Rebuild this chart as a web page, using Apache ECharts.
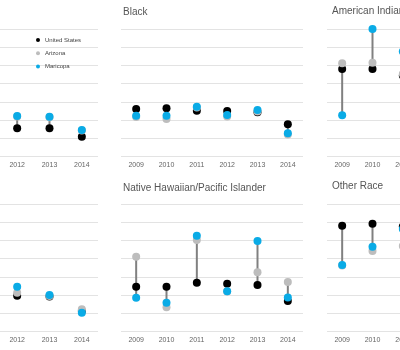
<!DOCTYPE html>
<html><head><meta charset="utf-8">
<script src="https://cdn.jsdelivr.net/npm/echarts@6/dist/echarts.min.js"></script>
<style>
html,body{margin:0;padding:0;background:#fff;overflow:hidden;width:400px;height:350px;position:relative}
#c{position:absolute;left:-120px;top:0;width:640px;height:350px}
</style>
</head><body><div id="c"></div>
<script>
// ---- data ----
const years = ['2009', '2010', '2011', '2012', '2013', '2014'];
const seriesNames = ['United States', 'Arizona', 'Maricopa'];
const panelTitles = ['', 'Black', 'American Indian/Alaska Native', '', 'Native Hawaiian/Pacific Islander', 'Other Race'];

// top-left panel (only 2012-2014 visible)
const aUS  = [null, null, null, 15.6, 15.6, 11.0];
const aAZ  = [null, null, null, 22.0, 21.6, 14.3];
const aMar = [null, null, null, 22.3, 21.9, 14.6];

const blackUS  = [26.2, 26.5, 25.2, 25.1, 24.3, 17.8];
const blackAZ  = [21.8, 20.7, 27.0, 22.1, 24.8, 12.2];
const blackMar = [22.5, 22.5, 27.4, 22.9, 25.6, 12.8];

const aianUS  = [48.1, 48.1, 44.5, null, null, null];
const aianAZ  = [51.2, 51.5, 45.3, null, null, null];
const aianMar = [22.7, 70.0, 57.6, null, null, null];

// bottom-left panel (only 2012-2014 visible)
const dUS  = [null, null, null, 19.7, 19.3, 11.3];
const dAZ  = [null, null, null, 21.4, 19.6, 12.3];
const dMar = [null, null, null, 24.7, 20.1, 10.4];

const nhpiUS  = [24.7, 24.7, 26.9, 26.3, 25.6, 16.8];
const nhpiAZ  = [41.1, 13.4, 50.3, 22.0, 32.6, 27.2];
const nhpiMar = [18.6, 15.9, 52.6, 22.2, 49.7, 18.8];

const otherUS  = [58.1, 59.2, 57.6, null, null, null];
const otherAZ  = [36.3, 44.2, 47.0, null, null, null];
const otherMar = [36.6, 46.6, 56.3, null, null, null];

const yMin = 0, yMax = 70, yStep = 10;

// ---- layout / style (chart div is shifted 120px left of the window) ----
const FONT = "'Liberation Sans','Arial',sans-serif";
const colors = ['#000000', '#bdbdbd', '#0aabe6'];
const gridLayouts = [
  {left: 24,  top: 29,  width: 194, height: 127.7},
  {left: 241, top: 29,  width: 182, height: 127.7},
  {left: 447, top: 29,  width: 182, height: 127.7},
  {left: 24,  top: 204, width: 194, height: 127.7},
  {left: 241, top: 204, width: 182, height: 127.7},
  {left: 447, top: 204, width: 182, height: 127.7}
];
const titlePos = [null, {left: 243, top: 7}, {left: 452, top: 6}, null, {left: 243, top: 183}, {left: 452, top: 181}];

const panelData = [
  [aUS, aAZ, aMar], [blackUS, blackAZ, blackMar], [aianUS, aianAZ, aianMar],
  [dUS, dAZ, dMar], [nhpiUS, nhpiAZ, nhpiMar], [otherUS, otherAZ, otherMar]
];

const grid = [], xAxis = [], yAxis = [], series = [], title = [];
panelData.forEach((pd, i) => {
  grid.push(Object.assign({}, gridLayouts[i]));
  xAxis.push({
    type: 'category', gridIndex: i, data: years, boundaryGap: true,
    axisLine: {show: false}, axisTick: {show: false},
    axisLabel: {fontSize: 7, color: '#666', fontFamily: FONT, margin: 5, interval: 0}
  });
  yAxis.push({
    type: 'value', gridIndex: i, min: yMin, max: yMax, interval: yStep,
    axisLine: {show: false}, axisTick: {show: false}, axisLabel: {show: false},
    splitLine: {lineStyle: {color: '#e3e3e3', width: 1}}
  });
  if (titlePos[i]) {
    title.push({
      text: panelTitles[i], left: titlePos[i].left, top: titlePos[i].top, padding: 0,
      textStyle: {fontSize: 10, fontWeight: 'normal', color: '#555', fontFamily: FONT}
    });
  }
  const ranges = years.map((y, k) => {
    const vals = pd.map(s => s[k]).filter(v => v != null);
    return vals.length ? [k, Math.min(...vals), Math.max(...vals)] : [k, null, null];
  }).filter(r => r[1] != null);
  series.push({
    type: 'custom', xAxisIndex: i, yAxisIndex: i, silent: true,
    data: ranges, encode: {x: 0, y: [1, 2]},
    renderItem: function (params, api) {
      const p1 = api.coord([api.value(0), api.value(1)]);
      const p2 = api.coord([api.value(0), api.value(2)]);
      return {type: 'line', shape: {x1: p1[0], y1: p1[1], x2: p2[0], y2: p2[1]},
              style: {stroke: '#808080', lineWidth: 2}};
    }
  });
  pd.forEach((s, j) => {
    series.push({
      type: 'scatter', name: seriesNames[j], xAxisIndex: i, yAxisIndex: i,
      data: s, symbol: 'circle', symbolSize: 8,
      itemStyle: {color: colors[j], opacity: 1}
    });
  });
});

const chart = echarts.init(document.getElementById('c'), null, {renderer: 'canvas'});
chart.setOption({
  animation: false,
  color: colors,
  title: title,
  legend: {
    data: seriesNames, orient: 'vertical', left: 156, top: 36, padding: 0,
    icon: 'circle', itemWidth: 4, itemHeight: 4, itemGap: 5.3,
    selectedMode: false,
    textStyle: {fontSize: 6, color: '#444', fontFamily: FONT, lineHeight: 8}
  },
  grid: grid, xAxis: xAxis, yAxis: yAxis, series: series
});
</script></body></html>
